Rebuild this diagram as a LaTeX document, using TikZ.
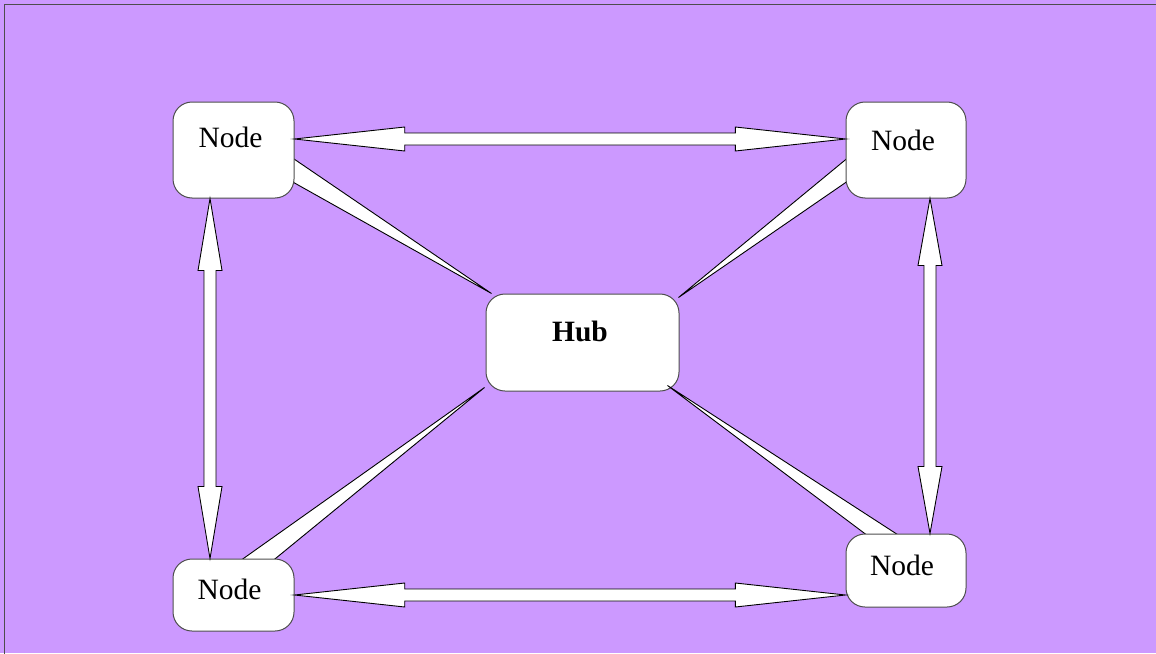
\documentclass[tikz,border=0pt]{standalone}
\usepackage{fontspec}
\setmainfont{Liberation Serif}
\usetikzlibrary{calc}
\definecolor{bgpurple}{HTML}{CC99FF}
\definecolor{edgegray}{HTML}{4D4D4D}
\pgfdeclarelayer{backl}
\pgfdeclarelayer{hubl}
\pgfdeclarelayer{wedgel}
\pgfsetlayers{backl,hubl,wedgel,main}
\newcommand\dblarrow[2]{%
  \coordinate (ha) at ($(#1)!0.2!(#2)$);
  \coordinate (hb) at ($(#2)!0.2!(#1)$);
  \draw[arrowbody] (#1) -- ($(ha)!6pt!90:(#2)$) -- ($(ha)!3pt!90:(#2)$)
    -- ($(hb)!3pt!-90:(#1)$) -- ($(hb)!6pt!-90:(#1)$) -- (#2)
    -- ($(hb)!6pt!90:(#1)$) -- ($(hb)!3pt!90:(#1)$)
    -- ($(ha)!3pt!-90:(#2)$) -- ($(ha)!6pt!-90:(#2)$) -- cycle;}
\tikzset{
  box/.style={draw=edgegray, line width=0.5pt, fill=white, rounded corners=9.5pt,
    inner sep=0pt, minimum width=60.5pt},
  lbl/.style={inner sep=0pt, font=\fontsize{14.75}{17}\selectfont},
  arrowbody/.style={draw=black, fill=white, line width=0.45pt, line join=miter},
  wedge/.style={draw=black, fill=white, line width=0.45pt, line join=miter},
}
\begin{document}
\begin{tikzpicture}[x=0.5pt, y=-0.5pt]
\useasboundingbox (0,0) rectangle (1156,653);
\begin{pgfonlayer}{backl}
\fill[bgpurple] (0,0) rectangle (1156,653);
\draw[edgegray, line width=0.6pt] (4.5,4.5) rectangle (1170,670);
\end{pgfonlayer}
\begin{pgfonlayer}{hubl}
\node[box, minimum width=96.5pt, minimum height=48.5pt] (hub) at (582.5,342.5) {};
\node[lbl, font=\fontsize{14.75}{17}\selectfont\bfseries] (hubt) at ($(hub.center)+(-2.5,-11.5)$) {Hub};
\end{pgfonlayer}
% outer nodes
\node[box, minimum height=48pt] (tl) at (233.5,150) {};
\node[lbl] (tlt) at ($(tl.center)+(-3,-13)$) {Node};
\node[box, minimum width=60pt, minimum height=48pt] (tr) at (906,150) {};
\node[lbl] (trt) at ($(tr.center)+(-3,-10)$) {Node};
\node[box, minimum height=36pt] (bl) at (233.5,595) {};
\node[lbl] (blt) at ($(bl.center)+(-4,-6)$) {Node};
\node[box, minimum width=60pt, minimum height=36.5pt] (br) at (906,570.5) {};
\node[lbl] (brt) at ($(br.center)+(-4,-5.5)$) {Node};
% wedges to hub
\begin{pgfonlayer}{wedgel}
\draw[wedge] ($(hub.north west)+(6,0)$) -- ($(tl.center)+(16.5,-21)$) -- ($(tl.center)+(16.5,8)$) -- cycle;
\draw[wedge] ($(hub.north east)+(-1,4)$) -- ($(tr.center)+(-16,-27)$) -- ($(tr.center)+(-16,2)$) -- cycle;
\draw[wedge] ($(hub.south west)+(-1,-4)$) -- ($(bl.center)+(-34.5,-5)$) -- ($(bl.center)+(3.5,-5)$) -- cycle;
\draw[wedge] ($(hub.south east)+(-12,-6)$) -- ($(br.center)+(8,0)$) -- ($(br.center)+(47,0)$) -- cycle;
\end{pgfonlayer}
% double arrows between nodes
\coordinate (a1) at ($(tl.east)+(0,-11)$);
\coordinate (b1) at ($(tr.west)+(0,-11)$);
\dblarrow{a1}{b1}
\coordinate (a2) at (bl.east);
\coordinate (b2) at ($(br.west)+(0,24.5)$);
\dblarrow{a2}{b2}
\coordinate (a3) at ($(tl.south)+(-23.5,0)$);
\coordinate (b3) at ($(bl.north)+(-23.5,0)$);
\dblarrow{a3}{b3}
\coordinate (a4) at ($(tr.south)+(24,0)$);
\coordinate (b4) at ($(br.north)+(24,0)$);
\dblarrow{a4}{b4}
\end{tikzpicture}
\end{document}
